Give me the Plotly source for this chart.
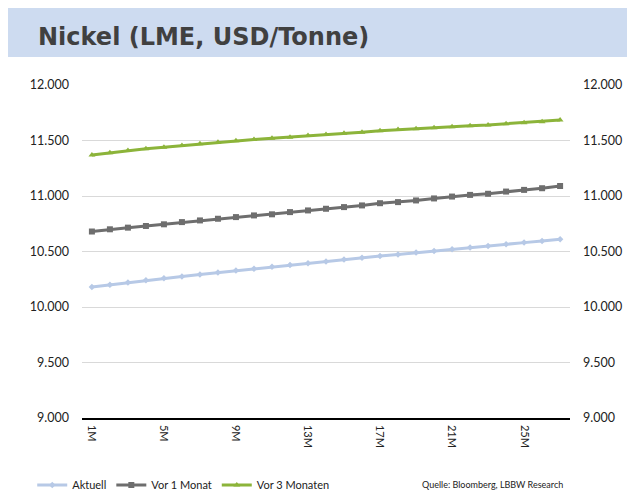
import plotly.graph_objects as go

months = [f"{i}M" for i in range(1, 28)]
aktuell = [10180, 10200, 10220, 10240, 10258, 10275, 10293, 10310, 10328, 10345, 10362, 10378, 10395, 10411,
           10427, 10443, 10459, 10474, 10490, 10505, 10520, 10535, 10550, 10565, 10580, 10595, 10610]
vor1 = [10680, 10700, 10715, 10730, 10745, 10765, 10780, 10795, 10810, 10825, 10835, 10855, 10870, 10885,
        10900, 10915, 10935, 10945, 10960, 10978, 10995, 11010, 11020, 11040, 11055, 11070, 11090]
vor3 = [11370, 11390, 11410, 11425, 11440, 11455, 11470, 11485, 11497, 11510, 11520, 11530, 11545, 11555,
        11565, 11575, 11588, 11598, 11606, 11615, 11625, 11633, 11640, 11650, 11660, 11670, 11685]
series_names = ["Aktuell", "Vor 1 Monat", "Vor 3 Monaten"]
title_text = "Nickel (LME, USD/Tonne)"
source_text = "Quelle: Bloomberg, LBBW Research"

colors = ["#b7c9e6", "#6e6e6e", "#8cb43a"]
symbols = ["diamond", "square", "triangle-up"]
sizes = [5, 6, 6]

fig = go.Figure()
for name, vals, c, s, sz in zip(series_names, [aktuell, vor1, vor3], colors, symbols, sizes):
    fig.add_trace(go.Scatter(x=months, y=vals, name=name, mode="lines+markers",
                             line=dict(color=c, width=3), marker=dict(color=c, symbol=s, size=sz)))

font_family = "Lato, 'Open Sans', sans-serif"
yax = dict(range=[9000, 12000], dtick=500, tickformat=",d", showgrid=True, gridcolor="#d9d9d9",
           gridwidth=1, zeroline=False, tickfont=dict(size=12.5, color="#222", family=font_family),
           ticklabelstandoff=12, showline=False)
# page body has an 8px margin: figure is laid out at (8, 8)
fig.update_layout(
    width=627, height=485,
    margin=dict(l=74, r=65, t=77, b=75, autoexpand=False),
    paper_bgcolor="white", plot_bgcolor="white",
    separators=",.",
    font=dict(family=font_family, color="#222"),
    xaxis=dict(type="category", range=[-0.55, 26.55], tickvals=months[::4], tickangle=90,
               tickfont=dict(size=11, color="#222", family=font_family), showgrid=False,
               showline=True, linecolor="#000", linewidth=1.5, ticks="", ticklabelstandoff=3),
    yaxis=yax,
    yaxis2=dict(yax, overlaying="y", side="right", showgrid=False, ticklabelstandoff=12),
    showlegend=True,
    legend=dict(orientation="h", x=-0.102, y=-0.201, xanchor="left", yanchor="middle",
                font=dict(size=11, color="#222", family=font_family), itemwidth=30,
                tracegroupgap=0, bgcolor="rgba(0,0,0,0)"),
    shapes=[dict(type="rect", xref="paper", yref="paper", x0=-0.16, x1=1.14, y0=1.084, y1=1.235,
                 fillcolor="#cddbf0", line=dict(width=0), layer="below")],
    annotations=[
        dict(text=f"<b>{title_text}</b>", xref="paper", yref="paper", x=-0.094, y=1.143,
             xanchor="left", yanchor="middle", showarrow=False,
             font=dict(size=24, color="#404040", family="'DejaVu Sans', 'Open Sans', sans-serif")),
        dict(text=source_text, xref="paper", yref="paper", x=0.99, y=-0.201,
             xanchor="right", yanchor="middle", showarrow=False,
             font=dict(size=9, color="#222", family=font_family)),
    ],
)
# invisible trace to activate right axis
fig.add_trace(go.Scatter(x=[months[0]], y=[aktuell[0]], yaxis="y2", showlegend=False,
                         mode="markers", marker=dict(opacity=0), hoverinfo="skip"))
fig.write_html("out.html")
